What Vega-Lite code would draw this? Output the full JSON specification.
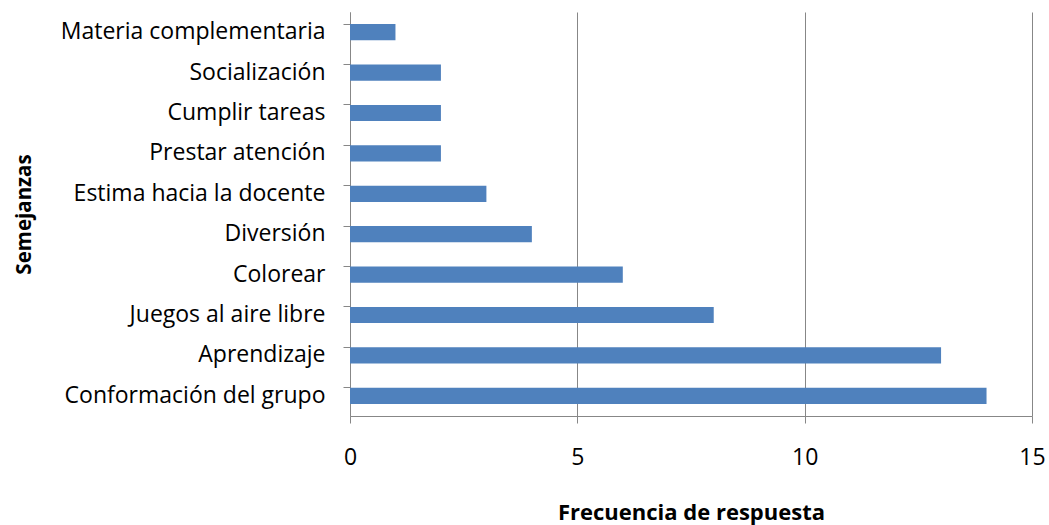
{
  "$schema": "https://vega.github.io/schema/vega-lite/v6.json",
  "autosize": "none",
  "width": 682,
  "height": 404,
  "padding": {"left": 350, "top": 12, "right": 17, "bottom": 109},
  "background": "white",
  "data": {"values": [
    {"semejanza": "Materia complementaria", "frecuencia": 1},
    {"semejanza": "Socialización", "frecuencia": 2},
    {"semejanza": "Cumplir tareas", "frecuencia": 2},
    {"semejanza": "Prestar atención", "frecuencia": 2},
    {"semejanza": "Estima hacia la docente", "frecuencia": 3},
    {"semejanza": "Diversión", "frecuencia": 4},
    {"semejanza": "Colorear", "frecuencia": 6},
    {"semejanza": "Juegos al aire libre", "frecuencia": 8},
    {"semejanza": "Aprendizaje", "frecuencia": 13},
    {"semejanza": "Conformación del grupo", "frecuencia": 14}
  ]},
  "mark": {"type": "bar", "color": "#4F81BD"},
  "encoding": {
    "y": {
      "field": "semejanza", "type": "nominal", "sort": null,
      "scale": {"paddingInner": 0.6, "paddingOuter": 0.3},
      "axis": {
        "title": "Semejanzas", "titleFont": "Open Sans", "titleFontSize": 20.5, "titleFontWeight": "bold",
        "titleColor": "#000", "titleX": -326, "titleBaseline": "middle",
        "labelFont": "Open Sans", "labelFontSize": 23, "labelColor": "#000", "labelPadding": 18, "labelLimit": 400,
        "bandPosition": 0,
        "domainColor": "#878787", "tickColor": "#878787", "tickSize": 7, "domainWidth": 1
      }
    },
    "x": {
      "field": "frecuencia", "type": "quantitative",
      "scale": {"domain": [0, 15], "nice": false},
      "axis": {
        "values": [0, 5, 10, 15], "title": "Frecuencia de respuesta",
        "titleFont": "Open Sans", "titleFontSize": 22, "titleFontWeight": "bold", "titleColor": "#000",
        "titleY": 96, "titleBaseline": "middle", "labelFlush": false,
        "labelFont": "Open Sans", "labelFontSize": 23, "labelColor": "#000", "labelPadding": 23,
        "domain": true, "domainColor": "#878787", "ticks": true, "tickSize": 7, "tickColor": "#878787",
        "grid": true, "gridColor": "#878787", "gridWidth": 1
      }
    }
  },
  "config": {"view": {"stroke": null}}
}
